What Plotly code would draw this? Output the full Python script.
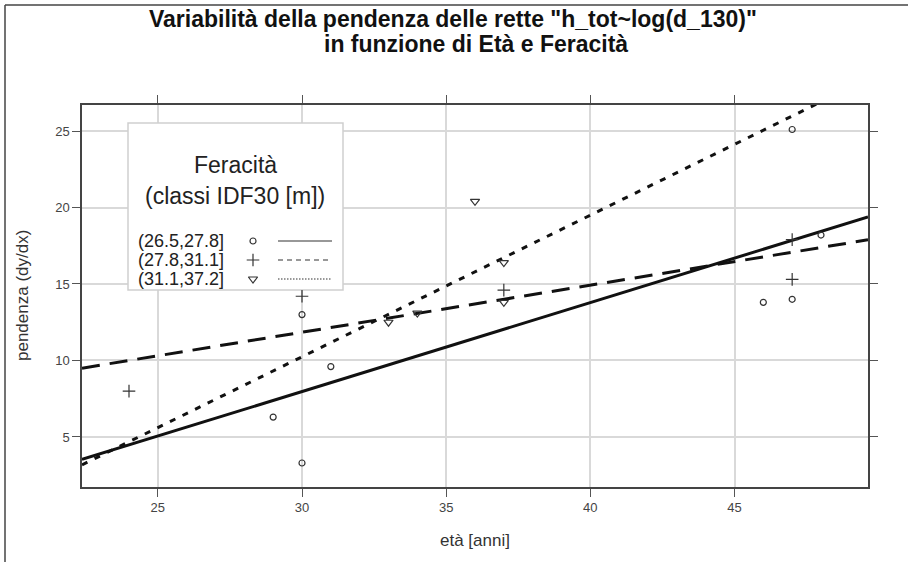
import numpy as np
import plotly.graph_objects as go

# ---------------- data ----------------
classes = ["(26.5,27.8]", "(27.8,31.1]", "(31.1,37.2]"]
eta_c1 = [29, 30, 30, 31, 46, 47, 47, 48]
pend_c1 = [6.3, 13.0, 3.3, 9.6, 13.8, 14.0, 25.1, 18.2]
eta_c2 = [24, 30, 37, 47, 47]
pend_c2 = [8.0, 14.2, 14.6, 15.3, 17.9]
eta_c3 = [33, 34, 36, 37, 37]
pend_c3 = [12.5, 13.1, 20.4, 16.4, 13.8]
x_ticks = [25, 30, 35, 40, 45]
y_ticks = [5, 10, 15, 20, 25]

title_1 = 'Variabilità della pendenza delle rette "h_tot~log(d_130)"'
title_2 = "in funzione di Età e Feracità"
legend_title_1 = "Feracità"
legend_title_2 = "(classi IDF30 [m])"
x_title = "età [anni]"
y_title = "pendenza (dy/dx)"

# ---------------- layout constants ----------------
W, H = 908, 562
L, R, T, B = 82, 40, 105, 75
PW, PH = W - L - R, H - T - B
X_RANGE = [22.37, 49.63]
Y_RANGE = [1.73, 26.7]
FONT = "Liberation Sans, Arial, sans-serif"
INK = "#333333"


def px_x(px):
    return X_RANGE[0] + (px - L) / PW * (X_RANGE[1] - X_RANGE[0])


def px_y(py):
    return Y_RANGE[0] + (H - B - py) / PH * (Y_RANGE[1] - Y_RANGE[0])


def fx(px):
    return (px - L) / PW


def fy(py):
    return (H - B - py) / PH


def note(px, py, text, size, color, **kw):
    d = dict(x=fx(px), y=fy(py), xref="paper", yref="paper", text=text,
             showarrow=False, xanchor="center", yanchor="middle",
             font=dict(family=FONT, size=size, color=color))
    d.update(kw)
    return d


groups = [
    (eta_c1, pend_c1, "circle-open", 6, "solid", "solid"),
    (eta_c2, pend_c2, "cross-thin-open", 9, "18px,10px", "5px,4px"),
    (eta_c3, pend_c3, "triangle-down-open", 8, "6px,8px", "1.5px,1.5px"),
]

fig = go.Figure()

for (xs, ys, sym, msz, dash, _), name in zip(groups, classes):
    slope, icpt = np.polyfit(xs, ys, 1)
    lx = np.array(X_RANGE)
    fig.add_trace(go.Scatter(
        x=lx, y=icpt + slope * lx, mode="lines", name=name,
        line=dict(color="#111111", width=3, dash=dash),
        hoverinfo="skip", showlegend=False))
    fig.add_trace(go.Scatter(
        x=xs, y=ys, mode="markers", name=name,
        marker=dict(symbol=sym, size=msz, color=INK,
                    line=dict(color=INK, width=1.2)),
        showlegend=False))

# ---------------- hand-built legend ----------------
shapes = []
annotations = []
shapes.append(dict(type="rect", xref="x", yref="y", layer="between",
                   x0=px_x(128), x1=px_x(343), y0=px_y(290), y1=px_y(123),
                   fillcolor="white", line=dict(color="#cfcfcf", width=1.5)))
annotations.append(note(235, 165, legend_title_1, 23, "#222"))
annotations.append(note(235, 196, legend_title_2, 23, "#222"))
row_y = [241, 260, 279]
for (xs, ys, sym, msz, _, ldash), name, ry in zip(groups, classes, row_y):
    annotations.append(note(136, ry, name, 18, "#222", xanchor="left"))
    fig.add_trace(go.Scatter(
        x=[px_x(253)], y=[px_y(ry)], mode="markers",
        marker=dict(symbol=sym, size=msz, color=INK,
                    line=dict(color=INK, width=1.2)),
        showlegend=False, hoverinfo="skip"))
    shapes.append(dict(type="line", xref="paper", yref="paper", layer="above",
                       x0=fx(278), x1=fx(332), y0=fy(ry), y1=fy(ry),
                       line=dict(color=INK, width=1.2, dash=ldash)))

# ---------------- titles ----------------
annotations.append(note(453, 19, "<b>" + title_1 + "</b>", 23, "#111"))
annotations.append(note(476, 44, "<b>" + title_2 + "</b>", 23, "#111"))
annotations.append(note(475, 540, x_title, 17, INK))
annotations.append(note(22, 296, y_title, 17, INK, textangle=-90))

# outer frame (left and top edges)
shapes.append(dict(type="line", xref="paper", yref="paper", layer="above",
                   x0=fx(5), x1=fx(5), y0=fy(570), y1=fy(5),
                   line=dict(color="#444", width=1.5)))
shapes.append(dict(type="line", xref="paper", yref="paper", layer="above",
                   x0=fx(5), x1=fx(920), y0=fy(5), y1=fy(5),
                   line=dict(color="#444", width=1.5)))

axis_common = dict(
    showgrid=True, gridcolor="#d9d9d9", gridwidth=1.5, zeroline=False,
    showline=True, linecolor="#444", linewidth=1.5, mirror="ticks",
    ticks="outside", ticklen=8, tickwidth=1.2, tickcolor="#555",
    tickfont=dict(family=FONT, size=13, color="#444"),
)

fig.update_layout(
    width=W, height=H,
    margin=dict(l=L, r=R, t=T, b=B),
    paper_bgcolor="white", plot_bgcolor="white",
    xaxis=dict(range=X_RANGE, tickvals=x_ticks, **axis_common),
    yaxis=dict(range=Y_RANGE, tickvals=y_ticks, **axis_common),
    shapes=shapes, annotations=annotations, showlegend=False,
)

fig.write_html("out.html",
               config={"displayModeBar": False},
               post_script="document.body.style.margin='0px';"
                           "document.body.style.overflow='hidden';")
